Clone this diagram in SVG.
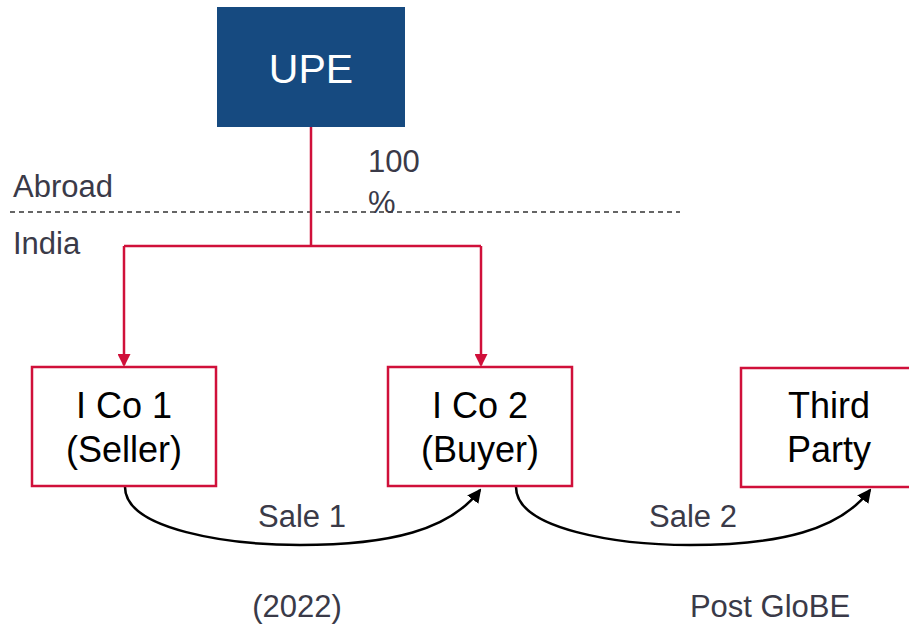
<svg xmlns="http://www.w3.org/2000/svg" width="909" height="626" viewBox="0 0 909 626">
<defs>
<style>
.box{fill:#fff;stroke:#d0103a;stroke-width:2.5}
.nt{font-family:"Liberation Sans",Arial,sans-serif;font-size:36px;fill:#000;text-anchor:middle}
.lbl{font-family:"Liberation Sans",Arial,sans-serif;font-size:31px;fill:#3a3a48}
.red{fill:none;stroke:#d0103a;stroke-width:2.5}
.blk{fill:none;stroke:#000;stroke-width:2.5}
</style>
<marker id="ar" markerWidth="13" markerHeight="13" refX="11" refY="6.5" orient="auto" markerUnits="userSpaceOnUse" viewBox="0 0 13 13"><path d="M0,0 L13,6.5 L0,13 z" fill="#d0103a"/></marker>
<marker id="ab" markerWidth="14" markerHeight="14" refX="12" refY="7" orient="auto" markerUnits="userSpaceOnUse" viewBox="0 0 14 14"><path d="M0,0 L14,7 L0,14 z" fill="#000"/></marker>
</defs>
<rect width="909" height="626" fill="#fff"/>
<line x1="10" y1="212" x2="680" y2="212" stroke="#333" stroke-width="1.3" stroke-dasharray="5,4"/>
<text class="lbl" x="13" y="197">Abroad</text>
<text class="lbl" x="13" y="254">India</text>
<text class="lbl" x="368" y="172">100</text>
<text class="lbl" x="368" y="213">%</text>
<text class="lbl" x="302" y="527" text-anchor="middle">Sale 1</text>
<text class="lbl" x="693" y="527" text-anchor="middle">Sale 2</text>
<text class="lbl" x="297" y="617" text-anchor="middle">(2022)</text>
<text class="lbl" x="770" y="617" text-anchor="middle">Post GloBE</text>
<g id="connectors">
<path class="red" d="M311,127 V246 M124,246 H481"/>
<path class="red" d="M124,246 V365" marker-end="url(#ar)"/>
<path class="red" d="M481,246 V365" marker-end="url(#ar)"/>
<path class="blk" d="M125,487 C125,530 230,545 300,545 C390,545 450,530 480,490" marker-end="url(#ab)"/>
<path class="blk" d="M516,487 C516,530 620,545 690,545 C780,545 840,530 870,490" marker-end="url(#ab)"/>
</g>
<g id="upe">
<rect x="217" y="7" width="188" height="120" fill="#164a80"/>
<text x="311" y="83" font-family="Liberation Sans, Arial, sans-serif" font-size="41" fill="#fff" text-anchor="middle">UPE</text>
</g>
<g id="ico1">
<rect class="box" x="32" y="367" width="184" height="119"/>
<text class="nt" x="124" y="418">I Co 1</text>
<text class="nt" x="124" y="462">(Seller)</text>
</g>
<g id="ico2">
<rect class="box" x="388" y="367" width="184" height="119"/>
<text class="nt" x="480" y="418">I Co 2</text>
<text class="nt" x="480" y="462">(Buyer)</text>
</g>
<g id="third">
<rect class="box" x="741" y="368" width="180" height="119"/>
<text class="nt" x="829" y="418">Third</text>
<text class="nt" x="829" y="462">Party</text>
</g>
</svg>
